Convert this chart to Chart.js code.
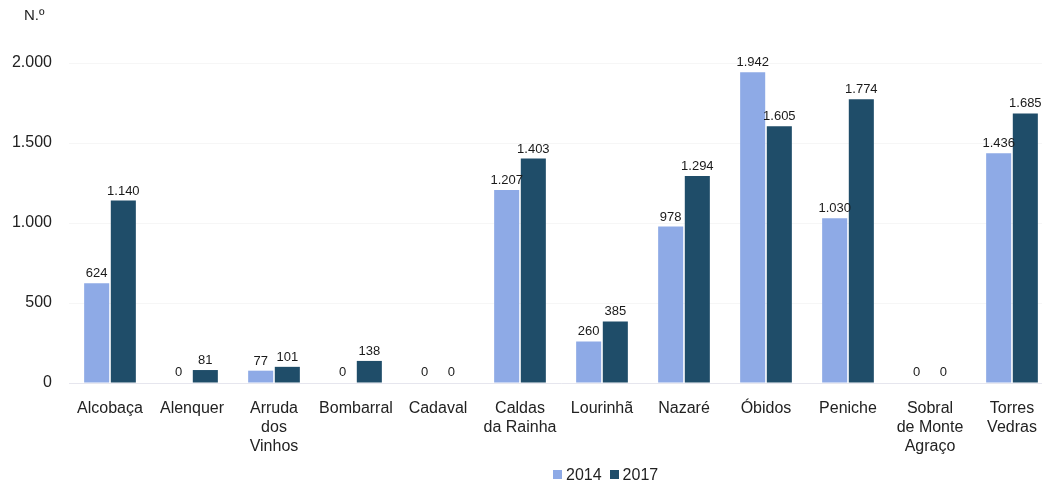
<!DOCTYPE html>
<html>
<head>
<meta charset="utf-8">
<script src="https://cdn.jsdelivr.net/npm/chart.js@4"></script>
<style>
  html, body { margin: 0; padding: 0; background: #fff; overflow: hidden; }
  #wrap { position: relative; width: 1055px; height: 485px; }
  #legend { position: absolute; left: 553px; top: 466px; font: 16px "Liberation Sans", Arial, sans-serif; color: #222; white-space: nowrap; }
  #legend span.box { display: inline-block; width: 9px; height: 9px; margin-right: 4px; vertical-align: 1px; }
  #legend span.item { margin-right: 8px; }
</style>
</head>
<body>
<div id="wrap">
  <canvas id="chart" width="1055" height="485"></canvas>
  <div id="legend"></div>
</div>
<script>
// Dados
const categorias = [
  "Alcobaça", "Alenquer", ["Arruda", "dos", "Vinhos"], "Bombarral", "Cadaval",
  ["Caldas", "da Rainha"], "Lourinhã", "Nazaré", "Óbidos", "Peniche",
  ["Sobral", "de Monte", "Agraço"], ["Torres", "Vedras"]
];
const valores2014 = [624, 0, 77, 0, 0, 1207, 260, 978, 1942, 1030, 0, 1436];
const valores2017 = [1140, 81, 101, 138, 0, 1403, 385, 1294, 1605, 1774, 0, 1685];
const ticksY = [0, 500, 1000, 1500, 2000];

const cor2014 = "#8eaae6";
const cor2017 = "#1f4d69";
const fonte = "'Liberation Sans', Arial, sans-serif";

function formatar(v) {
  return String(v).replace(/\B(?=(\d{3})+(?!\d))/g, ".");
}

// Rótulos por cima das barras + título do eixo
const rotulosPlugin = {
  id: "rotulos",
  afterDatasetsDraw(chart) {
    const ctx = chart.ctx;
    ctx.save();
    ctx.font = "13px " + fonte;
    ctx.fillStyle = "#1a1a1a";
    ctx.textAlign = "center";
    ctx.textBaseline = "bottom";
    chart.data.datasets.forEach((ds, i) => {
      chart.getDatasetMeta(i).data.forEach((bar, j) => {
        const y = ds.data[j] === 0 ? bar.y - 4 : bar.y - 3;
        ctx.fillText(formatar(ds.data[j]), bar.x, y);
      });
    });
    ctx.font = "15px " + fonte;
    ctx.fillStyle = "#222";
    ctx.textAlign = "left";
    ctx.textBaseline = "middle";
    ctx.fillText("N.º", 24, 16);
    ctx.restore();
  }
};

const ctx = document.getElementById("chart").getContext("2d");
const chart = new Chart(ctx, {
  type: "bar",
  data: {
    labels: categorias,
    datasets: [
      { label: "2014", data: valores2014, backgroundColor: cor2014 },
      { label: "2017", data: valores2017, backgroundColor: cor2017 }
    ]
  },
  options: {
    responsive: false,
    animation: false,
    layout: { padding: { top: 63, right: 2, bottom: 0, left: 0 } },
    datasets: { bar: { categoryPercentage: 0.65, barPercentage: 0.94 } },
    plugins: {
      legend: { display: false },
      tooltip: { enabled: false }
    },
    scales: {
      x: {
        grid: { display: false },
        border: { color: "#e6e6ee" },
        ticks: {
          color: "#222",
          font: { family: fonte, size: 16 },
          padding: 8,
          maxRotation: 0,
          autoSkip: false
        },
        afterFit(scale) { scale.height = 102; }
      },
      y: {
        min: 0,
        max: 2000,
        afterBuildTicks(scale) { scale.ticks = ticksY.map(v => ({ value: v })); },
        grid: { color: "rgba(0,0,0,0.035)", drawTicks: false },
        border: { display: false },
        ticks: {
          color: "#222",
          font: { family: fonte, size: 16 },
          padding: 17,
          callback: v => formatar(v)
        },
        afterFit(scale) { scale.width = 69; }
      }
    }
  },
  plugins: [rotulosPlugin]
});

// Legenda em HTML
const legenda = document.getElementById("legend");
chart.data.datasets.forEach(ds => {
  const item = document.createElement("span");
  item.className = "item";
  item.innerHTML = '<span class="box" style="background:' + ds.backgroundColor + '"></span>' + ds.label;
  legenda.appendChild(item);
});
</script>
</body>
</html>
